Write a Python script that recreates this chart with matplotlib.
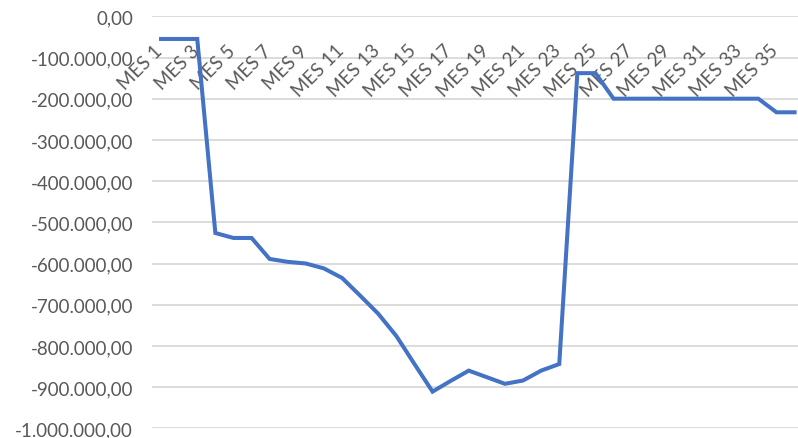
import matplotlib
matplotlib.use('Agg')
import matplotlib.pyplot as plt
from matplotlib.ticker import FuncFormatter

# monthly cumulative balance
meses = ['MES %d' % i for i in range(1, 37)]
saldo = [-55000, -55000, -55000, -526000, -538000, -538000, -589000, -596000,
         -600000, -612000, -635000, -678000, -722000, -776000, -844000, -911000,
         -885000, -860000, -876000, -892000, -884000, -860000, -844000, -138000,
         -138000, -200000, -200000, -200000, -200000, -200000, -200000, -200000,
         -200000, -200000, -233000, -233000]
yticks = list(range(0, -1000001, -100000))

plt.rcParams['font.family'] = ['Lato', 'DejaVu Sans']

fig = plt.figure(figsize=(7.98, 4.39), dpi=100)
ax = fig.add_axes([152 / 798, 9.7 / 439, 1 - 152 / 798, 412 / 439])

x = list(range(1, len(meses) + 1))
ax.plot(x, saldo, color='#4472C4', lw=2.9, solid_joinstyle='miter', zorder=3)

ax.set_ylim(-1000000, 0)
ax.set_xlim(0.5, 36.19)
ax.set_yticks(yticks)


def fmt(v, pos):
    s = '{:,.2f}'.format(v)
    return s.replace(',', 'X').replace('.', ',').replace('X', '.')


ax.yaxis.set_major_formatter(FuncFormatter(fmt))
ax.tick_params(axis='y', length=0, pad=13.5, labelsize=13.5, labelcolor='#595959')
ax.set_xticks([])
ax.grid(axis='y', color='#D9D9D9', lw=1.3, zorder=0)
for s in ax.spines.values():
    s.set_visible(False)

# category labels sit just under the zero line, every second month
for i in range(0, len(meses), 2):
    ax.annotate(meses[i], xy=(x[i], 0), xytext=(-1, -31), textcoords='offset pixels',
                rotation=45, rotation_mode='anchor', ha='right', va='center',
                fontsize=13.5, color='#595959', zorder=2, annotation_clip=False)

fig.savefig('out.png', dpi=100)
